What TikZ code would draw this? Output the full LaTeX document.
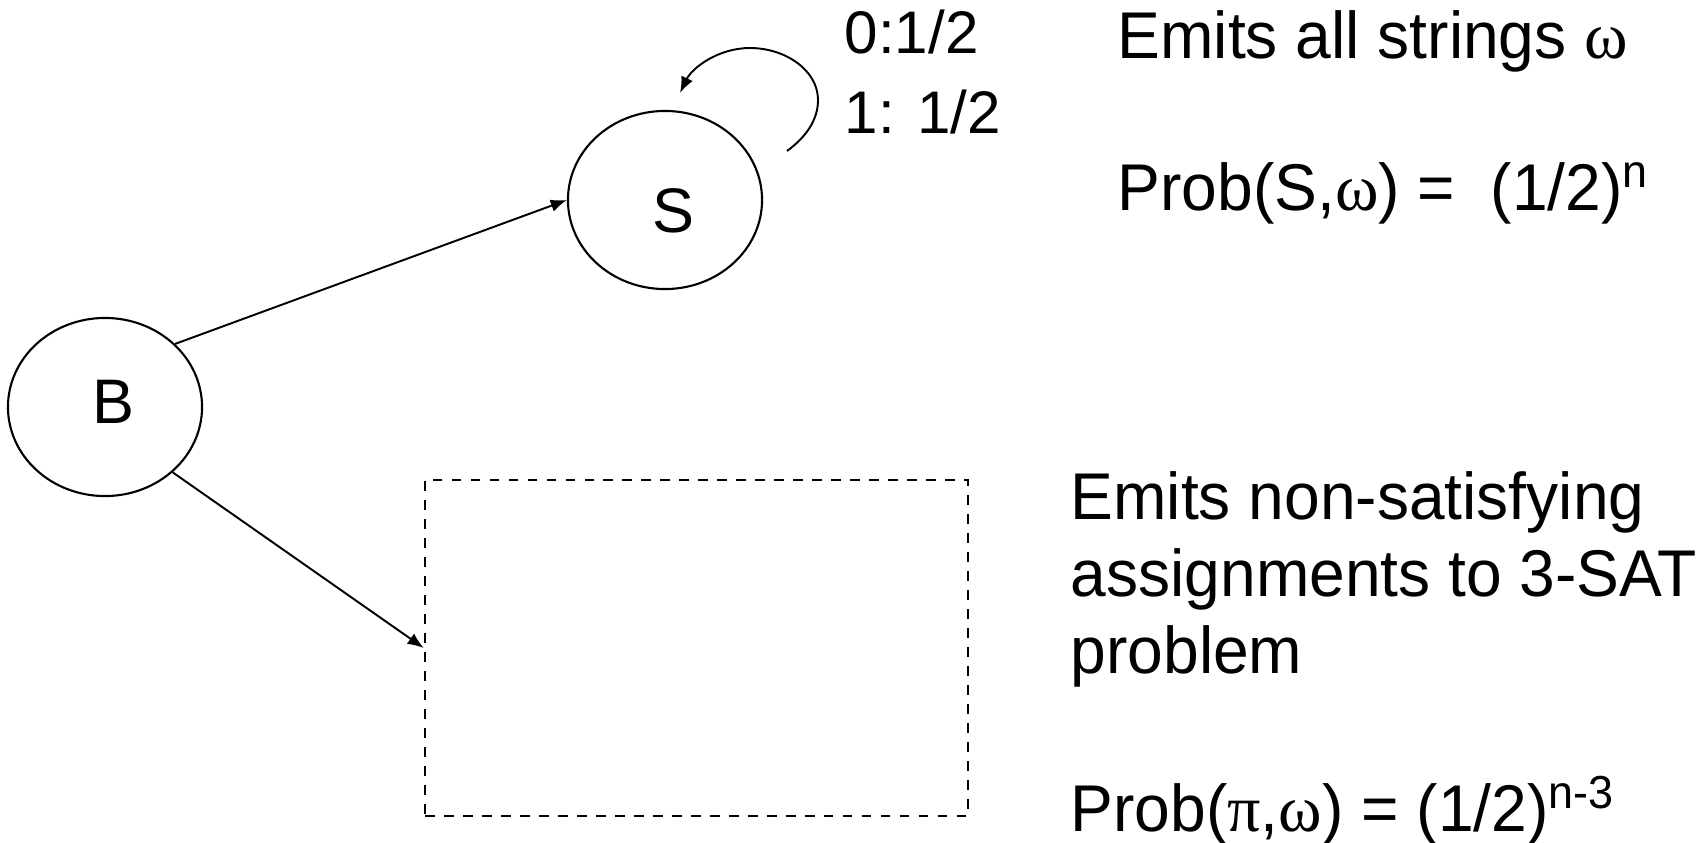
\documentclass[tikz,border=0pt]{standalone}
\usepackage{fontspec}
\setmainfont{Liberation Sans}
\newfontfamily\notefont[FakeStretch=0.97]{Liberation Sans}
\newfontfamily\greekserif{Liberation Serif}
\usetikzlibrary{shapes.geometric, arrows.meta, positioning}

\tikzset{
    state/.style={draw, ellipse, line width=0.6pt, minimum width=1.94cm, minimum height=1.78cm, inner sep=0pt},
    statetext/.style={font=\fontsize{17.9}{21}\selectfont, inner sep=0pt},
    arr/.style={-{Latex[length=4.6pt,width=3.6pt]}, line width=0.55pt},
    note/.style={anchor=base west, inner sep=0pt, align=left, font=\notefont\fontsize{18.8}{21.8}\selectfont}
}

\begin{document}
\begin{tikzpicture}[x=0.01cm, y=-0.01cm]
    \useasboundingbox (0,0) rectangle (1707,842);
    \node[state, label={[statetext, xshift=0.08cm, yshift=0.05cm]center:B}] (B) at (105,407) {};
    \node[state, label={[statetext, xshift=0.08cm, yshift=-0.11cm]center:S}] (S) at (665,200) {};
    \node[draw, dashed, dash pattern=on 2.8pt off 2.6pt, line width=0.6pt, minimum width=5.43cm, minimum height=3.36cm, inner sep=0pt] (box) at (696.5,648) {};
    \draw[arr] (B.42) -- (S.west);
    \draw[arr] (B.-44) -- (box.west);
    % self loop on S
    \coordinate (loopstart) at (787,151);
    \coordinate (loopend) at (680,93);
    \draw[arr] (loopstart) .. controls (806,137) and (818,120) .. (818,100)
        .. controls (818,70) and (785,48) .. (750,48)
        .. controls (718,48) and (692,68) .. (loopend);
    \node[anchor=base west, inner sep=0pt, align=left, font=\fontsize{17.1}{22.5}\selectfont] (looplabel) at (844,133) {0:1/2\\1: 1/2};
    % descriptions
    \node[note] (emitS) at (1117,58) {Emits all strings {\greekserif ω}};
    \node[note] (probS) at (1117,210) {Prob(S,{\greekserif ω}) =\ \ (1/2)\textsuperscript{n}};
    \node[note] (emitbox) at (1070,673) {Emits non-satisfying\\assignments to 3-SAT\\problem};
    \node[note] (probbox) at (1070,831) {Prob({\greekserif π},{\greekserif ω}) = (1/2)\textsuperscript{n-3}};
\end{tikzpicture}
\end{document}
